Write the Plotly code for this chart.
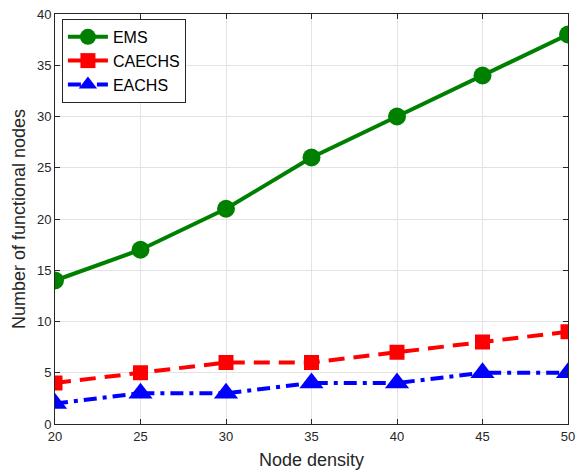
import plotly.graph_objects as go

node_density = [20, 25, 30, 35, 40, 45, 50]
ems = [14, 17, 21, 26, 30, 34, 38]
caechs = [4, 5, 6, 6, 7, 8, 9]
eachs = [2, 3, 3, 4, 4, 5, 5]

x_ticks = [20, 25, 30, 35, 40, 45, 50]
y_ticks = [0, 5, 10, 15, 20, 25, 30, 35, 40]

fig = go.Figure()
fig.add_trace(go.Scatter(x=node_density, y=ems, name="EMS", mode="lines+markers",
                         line=dict(color="#008000", width=4),
                         marker=dict(symbol="circle", size=18, color="#008000")))
fig.add_trace(go.Scatter(x=node_density, y=caechs, name="CAECHS", mode="lines+markers",
                         line=dict(color="#ff0000", width=4, dash="16px,9px"),
                         marker=dict(symbol="square", size=15, color="#ff0000")))
fig.add_trace(go.Scatter(x=node_density, y=eachs, name="EACHS", mode="lines+markers",
                         line=dict(color="#0000ff", width=4, dash="13px,6px,4px,6px"),
                         marker=dict(symbol="triangle-up", size=21, color="#0000ff")))

axis_common = dict(showline=True, linecolor="#262626", linewidth=1, mirror="ticks",
                   ticks="inside", ticklen=5, tickcolor="#262626",
                   showgrid=True, gridcolor="#e3e3e3", gridwidth=1, zeroline=False,
                   tickfont=dict(family="Liberation Sans, Arial", size=13, color="#262626"))

fig.update_xaxes(range=[20, 50], tickvals=x_ticks,
                 title=dict(text="Node density", font=dict(family="Liberation Sans, Arial", size=18, color="#262626"), standoff=10),
                 **axis_common)
fig.update_yaxes(range=[0, 40], tickvals=y_ticks,
                 title=dict(text="Number of functional nodes", font=dict(family="Liberation Sans, Arial", size=18, color="#262626"), standoff=6),
                 **axis_common)

fig.update_layout(
    width=582, height=474,
    margin=dict(l=55, r=7, t=12, b=50),
    plot_bgcolor="white", paper_bgcolor="white",
    legend=dict(x=0.0135, y=0.988, xanchor="left", yanchor="top",
                bordercolor="#262626", borderwidth=1, bgcolor="white",
                font=dict(family="Liberation Sans, Arial", size=16, color="black"),
                tracegroupgap=0, itemwidth=40),
    showlegend=True,
)

fig.write_html("out.html")
